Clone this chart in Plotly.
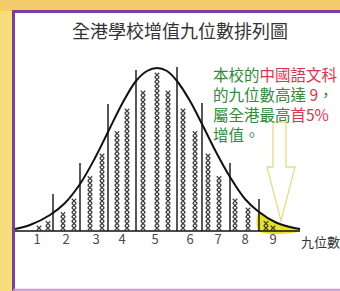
import plotly.graph_objects as go

# ---------------- data ----------------
title_text = "全港學校增值九位數排列圖"
stanine_labels = ["1", "2", "3", "4", "5", "6", "7", "8", "9"]
label_x = [37, 66, 96, 122, 155, 190, 218, 245, 273]
axis_name = "九位數"

curve_x = [15, 30, 50, 65, 80, 95, 108, 122, 136, 147, 157, 167, 177, 190, 202, 216, 230, 245, 259, 275, 290, 300]
curve_y = [2, 6, 16, 28, 47, 73, 99, 127, 150, 160, 163, 160, 150, 130, 107, 79, 54, 32, 19, 9, 4, 2]

divider_x = [53, 80, 108, 136, 177, 202, 230, 259]
divider_top = [37, 68, 127, 161, 164, 128, 68, 32]

column_x = [39, 48, 63, 74, 90, 102, 117, 127, 143, 157, 168, 183, 195, 208, 219, 235, 248, 266, 273]
column_count = [1, 2, 4, 7, 12, 17, 22, 27, 31, 35, 31, 27, 22, 17, 12, 7, 5, 2, 1]

highlight_from = 259  # school's stanine 9 band start

GREEN = "#2f8a3a"
RED = "#e2334c"
FONT = "Noto Sans CJK TC"

note_lines = [
    [("本校的", GREEN), ("中國語文科", RED)],
    [("的九位數高達 ", GREEN), ("9", RED), ("，", GREEN)],
    [("屬全港最高", GREEN), ("首5%", RED)],
    [("增值。", GREEN)],
]

# ---------------- figure ----------------
fig = go.Figure()

# highlighted (yellow) area under curve for band 9
hx = [x for x in curve_x if x >= highlight_from]
hy = [y for x, y in zip(curve_x, curve_y) if x >= highlight_from]
fig.add_trace(go.Scatter(
    x=[highlight_from] + hx + [hx[-1], highlight_from],
    y=[0] + hy + [0, 0],
    mode="lines", fill="toself", fillcolor="#e6e21e",
    line=dict(width=0, shape="spline"), hoverinfo="skip", showlegend=False))

# x-mark columns
step = 4.5
mx, my = [], []
for x, n in zip(column_x, column_count):
    for i in range(n):
        mx.append(x)
        my.append(3 + i * step)
fig.add_trace(go.Scatter(
    x=mx, y=my, mode="markers",
    marker=dict(symbol="x-thin", size=4.5, line=dict(width=1.1, color="#3a3a3a")),
    hoverinfo="skip", showlegend=False))

# divider lines
dx, dy = [], []
for x, t in zip(divider_x, divider_top):
    dx += [x, x, None]
    dy += [0, t, None]
fig.add_trace(go.Scatter(x=dx, y=dy, mode="lines",
                         line=dict(color="#111", width=1.4),
                         hoverinfo="skip", showlegend=False))

# baseline
fig.add_trace(go.Scatter(x=[curve_x[0], curve_x[-1]], y=[0, 0], mode="lines",
                         line=dict(color="#111", width=1.5),
                         hoverinfo="skip", showlegend=False))

# bell curve
fig.add_trace(go.Scatter(x=curve_x, y=curve_y, mode="lines",
                         line=dict(color="#111", width=2, shape="spline", smoothing=1.0),
                         hoverinfo="skip", showlegend=False))

# stanine labels
fig.add_trace(go.Scatter(x=label_x, y=[-10] * len(label_x), mode="text",
                         text=stanine_labels,
                         textfont=dict(family=FONT, size=13, color="#4a4a4a"),
                         hoverinfo="skip", showlegend=False))

fig.add_annotation(x=299, y=-10, text=axis_name, showarrow=False,
                   xanchor="left", yanchor="middle",
                   font=dict(family=FONT, size=13, color="#333"))

# title
fig.add_annotation(x=180, y=201, text=title_text, showarrow=False,
                   xanchor="center", yanchor="middle",
                   font=dict(family=FONT, size=18, color="#333"))

# note text
html = "<br>".join(
    "".join(f"<span style='color:{c}'>{t}</span>" for t, c in parts) for parts in note_lines)
fig.add_annotation(x=211, y=170.5, text=html, showarrow=False,
                   xanchor="left", yanchor="top", align="left",
                   font=dict(family=FONT, size=15.5, color=GREEN))

# hollow arrow (decoration)
fig.add_shape(type="path",
              path="M 273,109 L 286,109 L 286,64 L 295,64 L 281,10 L 267,64 L 273,64 Z",
              line=dict(color="#e6dc84", width=1.3), fillcolor="rgba(0,0,0,0)",
              xref="x", yref="y", layer="above")

# frame: yellow surround, white panel, purple borders
fig.add_shape(type="rect", xref="paper", yref="paper", x0=0, x1=1, y0=1 - 11 / 291, y1=1,
              fillcolor="#f4cc6c", line=dict(width=0), layer="below")
fig.add_shape(type="rect", xref="paper", yref="paper", x0=13 / 340, x1=1, y0=0, y1=1 - 11 / 291,
              fillcolor="white", line=dict(width=0), layer="below")
fig.add_shape(type="line", xref="paper", yref="paper", x0=12 / 340, x1=1,
              y0=1 - 11.5 / 291, y1=1 - 11.5 / 291,
              line=dict(color="#7b3fa4", width=3), layer="below")
fig.add_shape(type="line", xref="paper", yref="paper", x0=13.5 / 340, x1=13.5 / 340,
              y0=0, y1=1 - 10 / 291,
              line=dict(color="#7b3fa4", width=3), layer="below")
fig.add_shape(type="line", xref="paper", yref="paper", x0=13 / 340, x1=1,
              y0=1 - 289.8 / 291, y1=1 - 289.8 / 291,
              line=dict(color="#c49ad8", width=2), layer="below")

fig.update_layout(
    width=340, height=291,
    margin=dict(l=0, r=0, t=0, b=0),
    paper_bgcolor="#f8de7a",
    plot_bgcolor="rgba(0,0,0,0)",
    xaxis=dict(range=[0, 340], visible=False, fixedrange=True),
    yaxis=dict(range=[-60, 231], visible=False, fixedrange=True),
    showlegend=False,
)

fig.write_html("out.html", config={"displayModeBar": False},
               post_script="document.body.style.margin='0';")
